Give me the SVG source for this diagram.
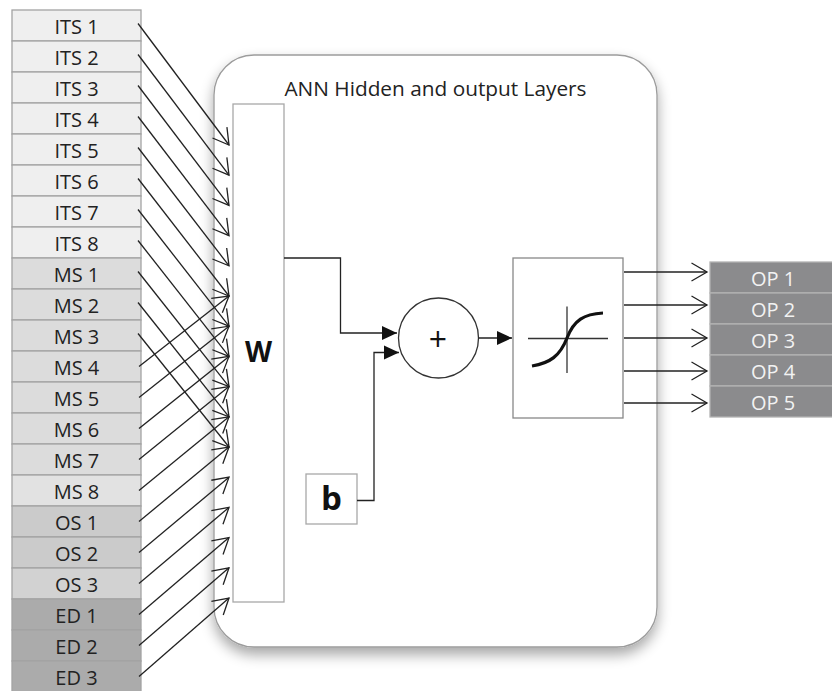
<svg xmlns="http://www.w3.org/2000/svg" width="832" height="691" viewBox="0 0 832 691">
<style>
.cell{stroke:#a3a3a3;stroke-width:1.3}
.its{fill:#efefef}.ms{fill:#dcdcdc}.ms8{fill:#e2e2e2}.os{fill:#cbcbcb}.os3{fill:#d2d2d2}.ed{fill:#ababab}
.lbl{font-family:"Open Sans","Liberation Sans",sans-serif;font-size:20px;fill:#222;text-anchor:middle}
.olbl{font-family:"Open Sans","Liberation Sans",sans-serif;font-size:20px;fill:#f2f2f2;text-anchor:middle}
.op{fill:#8b8b8d;stroke:#b3b3b3;stroke-width:1.3}
.ln{fill:none;stroke:#222;stroke-width:1.3}
.box{fill:#fff;stroke:#a8a8a8;stroke-width:1.3}
</style>
<defs>
<filter id="sh" x="-20%" y="-20%" width="140%" height="140%">
<feGaussianBlur in="SourceAlpha" stdDeviation="7"/>
<feOffset dx="0" dy="7" result="b"/>
<feComponentTransfer><feFuncA type="linear" slope="0.35"/></feComponentTransfer>
<feMerge><feMergeNode/><feMergeNode in="SourceGraphic"/></feMerge>
</filter>
<marker id="open" markerUnits="userSpaceOnUse" viewBox="-18 -11 20 22" refX="0" refY="0" markerWidth="20" markerHeight="22" orient="auto" overflow="visible">
<path d="M-15.5,-9 L0,0 L-15.5,9" fill="none" stroke="#222" stroke-width="1.3"/>
</marker>
<marker id="fill" markerUnits="userSpaceOnUse" viewBox="-16 -8 17 16" refX="0" refY="0" markerWidth="17" markerHeight="16" orient="auto" overflow="visible">
<path d="M-15,-7 L0,0 L-15,7 Z" fill="#111"/>
</marker>
</defs>
<rect width="832" height="691" fill="#fff"/>

<g id="container">
<rect x="214" y="55" width="443" height="592" rx="40" ry="40" fill="#fff" stroke="#9c9c9c" stroke-width="1.3" filter="url(#sh)"/>
<text x="435.5" y="96" font-family="'Open Sans','Liberation Sans',sans-serif" font-size="20.8" fill="#222" text-anchor="middle">ANN Hidden and output Layers</text>
</g>

<g id="inputs">
<g id="ITS1"><rect class="cell its" x="12" y="10" width="129" height="31"/><text class="lbl" x="76.5" y="34">ITS 1</text></g>
<g id="ITS2"><rect class="cell its" x="12" y="41" width="129" height="31"/><text class="lbl" x="76.5" y="65">ITS 2</text></g>
<g id="ITS3"><rect class="cell its" x="12" y="72" width="129" height="31"/><text class="lbl" x="76.5" y="96">ITS 3</text></g>
<g id="ITS4"><rect class="cell its" x="12" y="103" width="129" height="31"/><text class="lbl" x="76.5" y="127">ITS 4</text></g>
<g id="ITS5"><rect class="cell its" x="12" y="134" width="129" height="31"/><text class="lbl" x="76.5" y="158">ITS 5</text></g>
<g id="ITS6"><rect class="cell its" x="12" y="165" width="129" height="31"/><text class="lbl" x="76.5" y="189">ITS 6</text></g>
<g id="ITS7"><rect class="cell its" x="12" y="196" width="129" height="31"/><text class="lbl" x="76.5" y="220">ITS 7</text></g>
<g id="ITS8"><rect class="cell its" x="12" y="227" width="129" height="31"/><text class="lbl" x="76.5" y="251">ITS 8</text></g>
<g id="MS1"><rect class="cell ms" x="12" y="258" width="129" height="31"/><text class="lbl" x="76.5" y="282">MS 1</text></g>
<g id="MS2"><rect class="cell ms" x="12" y="289" width="129" height="31"/><text class="lbl" x="76.5" y="313">MS 2</text></g>
<g id="MS3"><rect class="cell ms" x="12" y="320" width="129" height="31"/><text class="lbl" x="76.5" y="344">MS 3</text></g>
<g id="MS4"><rect class="cell ms" x="12" y="351" width="129" height="31"/><text class="lbl" x="76.5" y="375">MS 4</text></g>
<g id="MS5"><rect class="cell ms" x="12" y="382" width="129" height="31"/><text class="lbl" x="76.5" y="406">MS 5</text></g>
<g id="MS6"><rect class="cell ms" x="12" y="413" width="129" height="31"/><text class="lbl" x="76.5" y="437">MS 6</text></g>
<g id="MS7"><rect class="cell ms" x="12" y="444" width="129" height="31"/><text class="lbl" x="76.5" y="468">MS 7</text></g>
<g id="MS8"><rect class="cell ms8" x="12" y="475" width="129" height="31"/><text class="lbl" x="76.5" y="499">MS 8</text></g>
<g id="OS1"><rect class="cell os" x="12" y="506" width="129" height="31"/><text class="lbl" x="76.5" y="530">OS 1</text></g>
<g id="OS2"><rect class="cell os" x="12" y="537" width="129" height="31"/><text class="lbl" x="76.5" y="561">OS 2</text></g>
<g id="OS3"><rect class="cell os3" x="12" y="568" width="129" height="31"/><text class="lbl" x="76.5" y="592">OS 3</text></g>
<g id="ED1"><rect class="cell ed" x="12" y="599" width="129" height="31"/><text class="lbl" x="76.5" y="623">ED 1</text></g>
<g id="ED2"><rect class="cell ed" x="12" y="630" width="129" height="31"/><text class="lbl" x="76.5" y="654">ED 2</text></g>
<g id="ED3"><rect class="cell ed" x="12" y="661" width="129" height="31"/><text class="lbl" x="76.5" y="685">ED 3</text></g>
</g>

<g id="W"><rect class="box" x="233" y="104" width="51" height="498"/><text x="258.5" y="362" font-family="'Open Sans','Liberation Sans',sans-serif" font-size="28" font-weight="bold" fill="#111" text-anchor="middle">W</text></g>
<g id="b"><rect class="box" x="306" y="474" width="51" height="50"/><text x="331.5" y="510" font-family="'Open Sans','Liberation Sans',sans-serif" font-size="33" font-weight="bold" fill="#111" text-anchor="middle">b</text></g>
<g id="sum"><circle cx="438.5" cy="338" r="40" fill="#fff" stroke="#333" stroke-width="1.3"/><text x="438" y="351" font-family="'Open Sans','Liberation Sans',sans-serif" font-size="32" fill="#111" text-anchor="middle">+</text></g>
<g id="activation"><rect x="513" y="258" width="110" height="160" fill="#fff" stroke="#888" stroke-width="1.3"/>
<line x1="528" y1="338.5" x2="608" y2="338.5" stroke="#333" stroke-width="1.3"/>
<line x1="567" y1="306.5" x2="567" y2="373" stroke="#333" stroke-width="1.3"/>
<path d="M532,366 C550,363 560,356 567,338 C574,320 584,314 603,313" fill="none" stroke="#111" stroke-width="3.2"/>
</g>

<g id="outputs">
<g id="OP1"><rect class="op" x="710" y="262" width="126" height="31"/><text class="olbl" x="773" y="285.5">OP 1</text></g>
<g id="OP2"><rect class="op" x="710" y="293" width="126" height="31"/><text class="olbl" x="773" y="316.5">OP 2</text></g>
<g id="OP3"><rect class="op" x="710" y="324" width="126" height="31"/><text class="olbl" x="773" y="347.5">OP 3</text></g>
<g id="OP4"><rect class="op" x="710" y="355" width="126" height="31"/><text class="olbl" x="773" y="378.5">OP 4</text></g>
<g id="OP5"><rect class="op" x="710" y="386" width="126" height="31"/><text class="olbl" x="773" y="409.5">OP 5</text></g>
</g>

<g id="connectors" class="ln">
<g marker-end="url(#open)">
<line x1="138" y1="23.5" x2="229" y2="145"/>
<line x1="138" y1="54.5" x2="229" y2="175.2"/>
<line x1="138" y1="85.5" x2="229" y2="205.4"/>
<line x1="138" y1="116.5" x2="229" y2="235.6"/>
<line x1="138" y1="147.5" x2="229" y2="265.8"/>
<line x1="138" y1="178.5" x2="229" y2="296"/>
<line x1="138" y1="209.5" x2="229" y2="326.2"/>
<line x1="138" y1="240.5" x2="229" y2="356.4"/>
<line x1="138" y1="271.5" x2="229" y2="386.6"/>
<line x1="138" y1="302.5" x2="229" y2="416.8"/>
<line x1="138" y1="333.5" x2="229" y2="447"/>
<line x1="139" y1="366.5" x2="229" y2="296"/>
<line x1="139" y1="397.5" x2="229" y2="326.2"/>
<line x1="139" y1="428.5" x2="229" y2="356.4"/>
<line x1="139" y1="459.5" x2="229" y2="386.6"/>
<line x1="139" y1="490.5" x2="229" y2="416.8"/>
<line x1="139" y1="521.5" x2="229" y2="447"/>
<line x1="139" y1="552.5" x2="229" y2="477.2"/>
<line x1="139" y1="583.5" x2="229" y2="507.4"/>
<line x1="139" y1="614.5" x2="229" y2="537.6"/>
<line x1="139" y1="645.5" x2="229" y2="567.8"/>
<line x1="139" y1="676.5" x2="229" y2="598"/>
<line x1="624" y1="272" x2="707" y2="272"/>
<line x1="624" y1="305" x2="707" y2="305"/>
<line x1="624" y1="338" x2="707" y2="338"/>
<line x1="624" y1="371" x2="707" y2="371"/>
<line x1="624" y1="403" x2="707" y2="403"/>
</g>
<g marker-end="url(#fill)">
<path d="M284,258 H340.5 V333 H397"/>
<path d="M357,500.5 H374 V352.5 H399"/>
<path d="M478.5,338 H512"/>
</g>
</g>
</svg>
